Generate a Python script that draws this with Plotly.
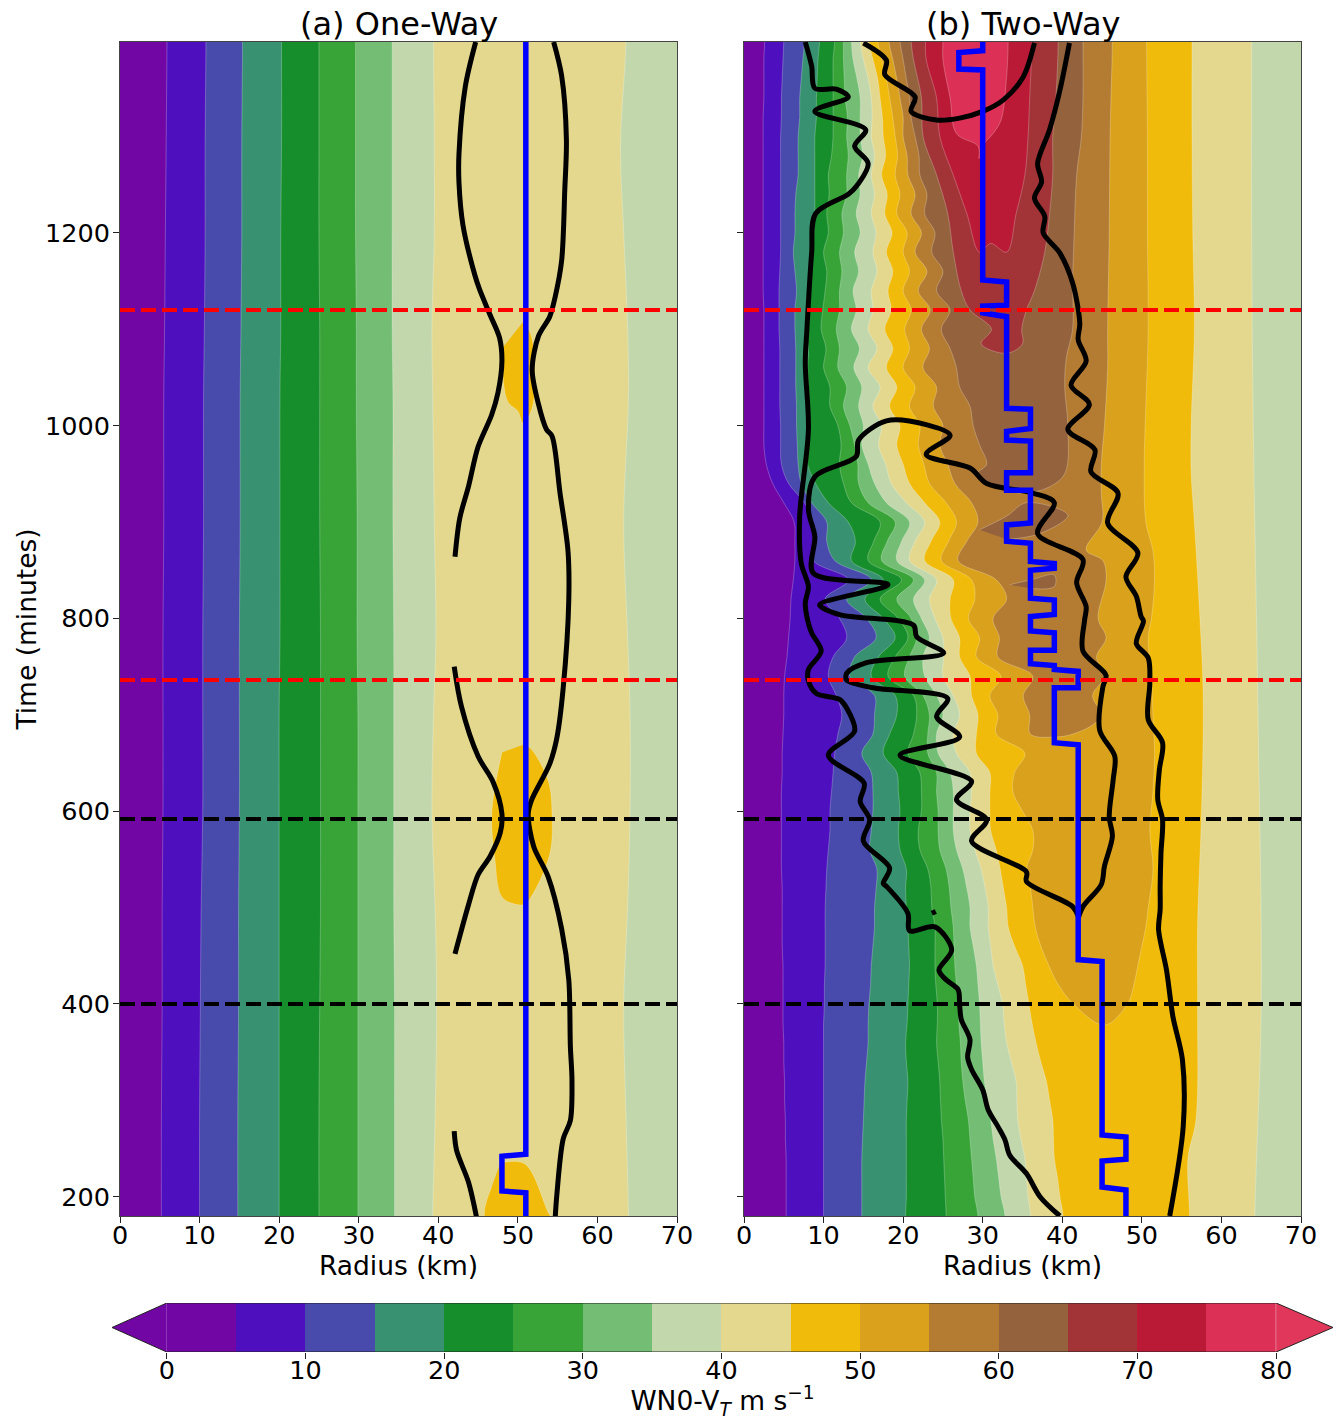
import plotly.graph_objects as go

W, H = 1340, 1420
FONT = "DejaVu Sans"

# ---------- colour levels (lower bound of each band, m/s) ----------
levels = [0, 5, 10, 15, 20, 25, 30, 35, 40, 45, 50, 55, 60, 65, 70, 75]
colors = ["#7106A5", "#4E10BE", "#484AAC", "#389272", "#178E2C", "#38A438", "#73BE74", "#C2D8AC",
          "#E3D88E", "#F0BB0A", "#DAA21C", "#B47C32", "#94623C", "#A23438", "#BA1A36", "#DC3056"]
over_color = "#E1375A"
radius_max = 70
cbar_ticks = [0, 10, 20, 30, 40, 50, 60, 70, 80]

# ---------- panel (a): isotach radii (km) ----------
a_time = [180, 280, 400, 500, 600, 700, 780, 900, 1030, 1100, 1200, 1289, 1400]
a_05 = [5.2, 5.2, 5.3, 5.3, 5.4, 5.4, 5.4, 5.5, 5.5, 5.6, 5.7, 5.8, 5.9]
a_10 = [10.0, 10.0, 10.1, 10.2, 10.4, 10.4, 10.4, 10.5, 10.5, 10.6, 10.7, 10.7, 10.8]
a_15 = [14.8, 14.8, 14.9, 14.9, 15.0, 15.0, 15.0, 15.1, 15.1, 15.2, 15.3, 15.3, 15.4]
a_20 = [20.0, 20.0, 20.0, 20.0, 20.0, 20.0, 20.1, 20.1, 20.1, 20.2, 20.2, 20.3, 20.3]
a_25 = [25.0, 25.0, 25.1, 25.2, 25.2, 25.2, 25.2, 25.1, 25.1, 25.1, 25.0, 25.0, 25.0]
a_30 = [29.9, 29.9, 29.9, 29.9, 29.9, 29.9, 29.8, 29.8, 29.7, 29.7, 29.6, 29.6, 29.6]
a_35 = [34.5, 34.5, 34.5, 34.4, 34.4, 34.4, 34.4, 34.3, 34.3, 34.2, 34.2, 34.2, 34.2]
a_40_in = [39.3, 39.6, 39.8, 39.6, 39.2, 39.4, 39.7, 39.5, 39.3, 39.2, 39.5, 39.5, 39.4]
a_40_out = [63.9, 63.6, 63.3, 63.8, 64.1, 64.1, 63.8, 63.3, 63.9, 63.8, 63.3, 62.9, 63.6]

a_island1_r = [50.7, 51.7, 51.9, 50.7, 50.0, 48.8, 48.2, 48.2]
a_island1_t = [1108, 1093, 1022, 1002, 1015, 1024, 1045, 1082]
a_island2_r = [50.7, 51.5, 53.8, 54.3, 54.0, 51.5, 50.7, 48.1, 47.1, 46.7, 47.1, 48.0]
a_island2_t = [669, 666, 632, 597, 555, 509, 503, 510, 551, 593, 624, 661]
a_island3_r = [47.8, 50.9, 54.0, 54.6, 46.0, 46.7]
a_island3_t = [235, 234, 181, 176, 176, 210]

a_line1_r = [44.7, 43.4, 42.6, 42.6, 43.1, 44.6, 45.2, 46.5, 47.7, 48.0, 47.5, 46.7, 45.0, 43.8, 42.7, 42.1]
a_line1_t = [1398, 1352, 1282, 1252, 1208, 1156, 1141, 1115, 1091, 1067, 1034, 1011, 978, 937, 904, 864]
a_line2_r = [42.0, 42.9, 45.0, 46.9, 48.0, 47.8, 46.5, 45.0, 43.8, 42.1]
a_line2_t = [750, 709, 657, 630, 597, 578, 553, 534, 503, 452]
a_line3_r = [42.0, 42.3, 43.8, 44.8]
a_line3_t = [268, 248, 215, 179]
a_line4_r = [54.5, 55.5, 56.1, 55.9, 55.5, 54.7, 54.0, 52.6, 51.8, 52.6, 53.6, 54.3, 55.3, 56.3, 56.4,
             55.7, 54.9, 54.0, 51.7, 51.3, 52.0, 53.8, 55.5, 56.4, 56.6, 56.8, 56.6, 55.7, 54.9, 54.7]
a_line4_t = [1398, 1363, 1297, 1245, 1171, 1134, 1113, 1093, 1058, 1022, 996, 989, 930, 870, 819,
             728, 676, 649, 611, 597, 563, 532, 478, 425, 356, 321, 279, 260, 202, 179]
a_rmw_r = [51, 51, 48, 48, 51, 51]
a_rmw_t = [1400, 244, 242, 206, 204, 180]

# ---------- panel (b): isotach radii (km), inner flank ----------
b_time = list(range(180, 1401, 20))
# columns: levels 5, 10, 15, 20, 25, 30, 35, 40, 45
b_inner_rows = [
    [5.3, 10.0, 14.8, 20.3, 25.4, 29.4, 32.8, 36.0, 40.1],
    [5.3, 10.0, 14.8, 20.4, 25.3, 29.0, 32.3, 35.7, 39.7],
    [5.3, 10.0, 14.8, 20.4, 25.2, 28.8, 32.0, 35.5, 39.4],
    [5.3, 10.0, 14.8, 20.4, 25.1, 28.6, 31.7, 35.3, 39.0],
    [5.2, 10.0, 14.9, 20.4, 25.0, 28.4, 31.3, 34.8, 38.9],
    [5.2, 10.0, 15.0, 20.4, 24.8, 28.2, 31.0, 34.4, 38.8],
    [5.1, 10.0, 15.1, 20.5, 24.7, 27.8, 30.6, 34.3, 38.4],
    [5.1, 10.0, 15.2, 20.6, 24.6, 27.5, 30.2, 34.2, 38.0],
    [5.0, 10.0, 15.4, 20.4, 24.4, 27.3, 30.0, 33.6, 37.3],
    [5.0, 10.0, 15.6, 20.3, 24.2, 27.2, 29.8, 33.0, 36.7],
    [4.9, 10.0, 15.6, 20.5, 24.3, 27.0, 29.7, 32.7, 36.2],
    [4.9, 10.1, 15.7, 20.6, 24.3, 26.9, 29.6, 32.5, 35.8],
    [4.9, 10.1, 15.9, 20.7, 24.1, 26.7, 29.4, 31.9, 35.4],
    [4.9, 10.2, 16.0, 20.8, 24.0, 26.5, 29.2, 31.3, 35.0],
    [4.8, 10.2, 16.2, 20.7, 24.0, 26.4, 28.8, 31.0, 34.0],
    [4.8, 10.2, 16.4, 20.6, 24.0, 26.3, 28.4, 30.7, 33.2],
    [4.8, 10.2, 16.4, 20.4, 23.6, 26.0, 28.4, 30.7, 33.0],
    [4.8, 10.3, 16.6, 20.3, 23.5, 25.8, 28.0, 30.3, 32.6],
    [4.7, 10.4, 16.7, 20.4, 23.1, 25.4, 27.5, 29.8, 32.2],
    [4.7, 10.6, 15.8, 19.6, 22.1, 24.6, 26.7, 29.0, 31.7],
    [4.7, 10.8, 16.0, 19.4, 21.9, 24.4, 26.3, 28.4, 31.0],
    [4.7, 10.8, 16.2, 19.6, 22.3, 24.4, 26.3, 28.4, 30.9],
    [4.7, 11.0, 16.2, 19.4, 22.3, 24.2, 26.3, 28.6, 30.9],
    [4.8, 11.2, 16.0, 19.2, 22.1, 24.2, 25.9, 28.4, 30.9],
    [4.8, 11.4, 14.8, 17.5, 20.6, 23.1, 24.4, 26.7, 29.2],
    [4.9, 11.8, 16.2, 18.3, 21.3, 23.1, 24.2, 26.3, 29.2],
    [5.0, 12.3, 16.4, 19.2, 21.7, 23.3, 25.0, 27.1, 29.4],
    [5.0, 11.6, 16.4, 19.0, 21.3, 22.5, 24.2, 26.3, 28.6],
    [5.1, 10.6, 13.3, 16.0, 18.1, 20.2, 22.7, 25.0, 28.4],
    [5.4, 11.2, 13.9, 16.9, 19.0, 20.8, 22.5, 25.1, 27.1],
    [5.6, 12.9, 16.6, 19.0, 20.6, 21.7, 23.3, 25.0, 27.1],
    [5.8, 12.0, 15.4, 17.5, 19.4, 21.0, 22.3, 24.0, 26.0],
    [5.9, 10.2, 12.9, 15.2, 17.1, 19.2, 21.3, 23.3, 25.9],
    [6.2, 13.1, 16.0, 17.5, 19.8, 21.3, 22.7, 24.2, 26.3],
    [6.4, 8.7, 11.4, 13.5, 15.6, 17.3, 19.2, 20.8, 22.7],
    [6.4, 8.7, 10.4, 14.0, 16.3, 18.0, 19.8, 21.5, 23.5],
    [6.3, 8.7, 10.4, 13.1, 17.1, 19.0, 20.8, 22.7, 24.6],
    [5.0, 7.6, 8.5, 10.6, 13.5, 15.6, 17.9, 20.4, 22.7],
    [3.6, 5.6, 7.2, 9.0, 12.5, 14.4, 16.4, 18.5, 20.8],
    [2.8, 4.7, 6.8, 8.0, 12.0, 14.3, 15.6, 17.8, 20.0],
    [2.5, 4.6, 6.7, 8.0, 12.2, 13.9, 14.8, 16.9, 19.2],
    [2.5, 4.6, 6.6, 8.2, 11.8, 13.3, 15.0, 17.3, 19.6],
    [2.5, 4.5, 6.6, 8.2, 10.8, 12.5, 14.4, 16.2, 18.3],
    [2.5, 4.5, 6.5, 8.1, 10.8, 12.9, 14.8, 17.1, 19.2],
    [2.5, 4.5, 6.5, 8.0, 10.0, 11.8, 13.8, 15.6, 17.9],
    [2.5, 4.5, 6.5, 8.1, 10.3, 12.0, 14.5, 16.7, 18.7],
    [2.5, 4.4, 6.4, 7.7, 9.7, 11.6, 13.5, 15.6, 17.7],
    [2.5, 4.4, 6.4, 7.9, 9.9, 12.0, 14.1, 16.2, 18.5],
    [2.4, 4.4, 6.6, 8.1, 10.2, 12.0, 13.7, 16.0, 18.1],
    [2.4, 4.5, 6.4, 8.3, 10.4, 12.3, 14.4, 16.7, 18.7],
    [2.4, 4.6, 6.2, 8.5, 10.0, 12.0, 13.9, 16.2, 17.9],
    [2.4, 4.6, 6.4, 8.8, 10.6, 12.5, 14.6, 16.6, 18.6],
    [2.4, 4.6, 6.4, 8.9, 10.4, 12.3, 14.1, 16.0, 17.7],
    [2.4, 4.6, 6.5, 8.9, 10.7, 12.9, 14.6, 16.4, 18.0],
    [2.4, 4.6, 6.8, 8.9, 10.6, 12.9, 14.4, 16.0, 17.3],
    [2.4, 4.6, 6.8, 8.9, 11.0, 13.1, 14.9, 16.4, 17.8],
    [2.4, 4.6, 6.8, 8.9, 11.2, 12.9, 14.6, 16.0, 17.5],
    [2.4, 4.7, 7.0, 9.1, 11.2, 13.0, 14.6, 16.1, 17.4],
    [2.5, 4.7, 7.0, 9.1, 11.2, 12.7, 14.6, 16.0, 17.1],
    [2.5, 4.8, 7.2, 9.2, 11.2, 12.6, 14.2, 15.6, 16.8],
    [2.5, 4.9, 7.4, 9.3, 11.2, 12.5, 13.7, 15.0, 16.2],
    [2.6, 5.0, 7.6, 9.5, 11.4, 12.5, 13.5, 14.6, 15.7],
]
b_05, b_10, b_15, b_20, b_25, b_30, b_35, b_40_in, b_45_in = map(list, zip(*b_inner_rows))

b_40_out_t = [180, 400, 700, 1000, 1200, 1400]
b_40_out = [64.2, 65.0, 64.6, 64.0, 63.8, 63.8]
b_45_out_t = [180, 240, 280, 400, 480, 600, 720, 800, 900, 950, 1000, 1100, 1200, 1300, 1400]
b_45_out = [56.0, 55.8, 56.8, 57.0, 57.0, 57.5, 57.7, 57.3, 56.6, 56.2, 56.2, 56.6, 56.4, 56.3, 56.3]

b_50_in_t = [378] + list(range(400, 1401, 20))
b_50_in = [45.3, 41.4, 39.5, 38.3, 37.3, 36.6, 36.3, 36.0, 35.5, 36.3, 36.3, 35.0, 33.8, 34.0, 35.3, 31.7,
           31.9, 30.9, 32.3, 29.2, 29.6, 28.2, 29.0, 28.6, 24.8, 25.7, 26.7, 25.4, 23.3, 22.6, 21.9, 22.1,
           20.8, 21.5, 20.0, 20.8, 20.2, 21.0, 20.0, 20.8, 20.0, 20.5, 19.2, 19.6, 19.0, 19.3, 19.0, 18.7,
           18.3, 17.9, 17.3, 16.8]
b_50_out_t = [378, 400, 420, 440, 460, 480, 500, 540, 580, 620, 660, 700, 740, 780, 800, 840, 870, 900,
              960, 1020, 1100, 1200, 1300, 1400]
b_50_out = [45.3, 48.2, 49.0, 49.5, 50.0, 50.5, 50.8, 51.4, 51.0, 51.4, 51.6, 51.4, 51.2, 50.8, 51.2, 51.6,
            51.4, 50.5, 50.3, 50.5, 50.8, 50.7, 50.7, 50.6]

b_55_in_t = [677] + list(range(680, 1401, 20))
b_55_in = [39.3, 36.0, 35.9, 35.1, 36.3, 31.9, 32.1, 31.3, 33.0, 31.7, 26.9, 28.0, 29.4, 28.6, 26.5, 25.6,
           24.6, 25.0, 23.8, 24.2, 22.5, 23.3, 22.3, 23.4, 21.9, 23.0, 21.5, 22.3, 21.0, 21.5, 20.6, 20.5,
           20.0, 20.0, 19.6, 19.2, 18.7, 18.2]
b_55_out_t = [677, 680, 690, 700, 720, 740, 760, 780, 800, 840, 860, 871, 900, 930, 960, 1000, 1060, 1100,
              1200, 1300, 1400]
b_55_out = [39.3, 41.3, 43.9, 44.9, 43.8, 45.3, 44.3, 45.5, 44.5, 45.5, 45.1, 43.0, 45.0, 44.9, 44.9, 45.3,
            45.7, 45.7, 45.9, 46.0, 46.3]

b_60_in_t = [930, 933, 940, 950, 960, 980, 1000, 1020, 1040, 1060, 1080, 1100, 1120, 1140, 1160, 1180, 1200,
             1220, 1240, 1260, 1280, 1300, 1320, 1340, 1360, 1380, 1400]
b_60_in = [35.0, 33.0, 31.0, 29.3, 30.5, 29.6, 28.8, 28.4, 27.1, 26.7, 25.9, 24.8, 25.9, 24.2, 25.0, 23.6, 24.0,
           22.7, 23.0, 22.1, 22.0, 21.5, 21.0, 20.8, 20.4, 20.0, 19.6]
b_60_out_t = [930, 935, 950, 1000, 1040, 1070, 1100, 1150, 1200, 1260, 1300, 1340, 1400]
b_60_out = [35.0, 38.0, 40.3, 40.7, 40.3, 40.5, 41.3, 41.3, 41.5, 41.8, 42.4, 42.6, 42.6]
b_60_islandA_r = [29.6, 33.0, 35.5, 40.7, 37.2, 33.0]
b_60_islandA_t = [892, 906, 920, 907, 888, 882]
b_60_islandB_r = [33.4, 36.1, 39.0, 39.0, 36.1]
b_60_islandB_t = [835, 840, 845, 833, 831]

b_65_in_t = [1075, 1085, 1100, 1120, 1140, 1180, 1220, 1260, 1300, 1340, 1380, 1400]
b_65_in = [33.0, 29.8, 31.1, 28.4, 27.3, 26.3, 25.6, 24.2, 22.5, 22.3, 21.3, 21.0]
b_65_out_t = [1075, 1085, 1100, 1120, 1140, 1180, 1220, 1260, 1300, 1340, 1400]
b_65_out = [33.0, 35.0, 34.9, 35.5, 36.5, 37.8, 38.4, 38.8, 38.8, 39.2, 39.5]

b_70_in_t = [1189, 1180, 1220, 1260, 1300, 1340, 1380, 1400]
b_70_in = [31.0, 29.6, 28.0, 26.3, 24.6, 24.2, 22.9, 22.8]
b_70_out_t = [1189, 1180, 1220, 1260, 1300, 1340, 1400]
b_70_out = [31.0, 33.0, 34.2, 35.3, 35.7, 35.9, 36.2]

b_75_in_t = [1277, 1290, 1303, 1340, 1380, 1400]
b_75_in = [29.5, 29.4, 26.7, 25.9, 25.0, 25.0]
b_75_out_t = [1277, 1290, 1303, 1317, 1362, 1400]
b_75_out = [30.0, 30.0, 31.3, 32.3, 33.0, 33.2]

# ---------- panel (b): black contours ----------
b_lineA_r = [39.7, 37.2, 35.5, 33.4, 32.8, 31.9, 30.7, 30.0, 28.6, 28.1, 28.4, 27.3, 27.1, 26.9, 25.4, 24.5, 26.1,
             24.0, 20.8, 20.6, 17.9, 17.5, 18.3, 15.0, 15.8, 14.6, 15.1, 10.6, 13.9, 12.9, 12.0, 9.1, 8.1, 8.1,
             9.7, 8.5, 8.0, 7.7, 8.1, 7.2, 7.0, 8.1, 7.7, 7.9, 8.5, 9.0, 13.1, 14.1, 15.6, 13.9, 15.3, 8.9, 13.1,
             11.6, 8.9, 8.5, 7.7]
b_lineA_t = [180, 200, 224, 243, 259, 273, 290, 311, 332, 345, 363, 384, 399, 415, 425, 435, 456,
             480, 476, 494, 522, 525, 541, 569, 591, 610, 629, 658, 683, 707, 716, 722, 735, 747,
             766, 785, 798, 816, 833, 857, 906, 996, 1065, 1099, 1179, 1220, 1240, 1248, 1272, 1290, 1307, 1326, 1341,
             1349, 1350, 1373, 1398]
b_lineB_r = [15.0, 17.9, 17.7, 21.5, 21.0, 24.2, 27.1, 30.0, 32.6, 35.1, 36.5]
b_lineB_t = [1397, 1379, 1364, 1341, 1326, 1317, 1319, 1326, 1338, 1362, 1397]
b_lineC_r = [53.5, 55.2, 55.1, 53.9, 53.1, 52.1, 52.3, 52.3, 52.4, 52.6, 52.0, 52.2, 52.6, 50.8, 51.0, 50.8, 49.3,
             50.2, 49.9, 49.3, 48.0, 49.5, 45.7, 47.0, 43.6, 44.1, 40.7, 43.4, 41.1, 43.0, 42.0, 42.2, 41.3, 39.7,
             37.6, 37.8, 36.5, 37.4, 36.9, 38.4, 39.7, 40.9]
b_lineC_t = [180, 273, 342, 387, 435, 477, 498, 522, 556, 591, 612, 643, 671, 695, 733, 759, 774,
             797, 802, 823, 843, 868, 899, 930, 952, 975, 996, 1022, 1042, 1067, 1089, 1106, 1148, 1179,
             1200, 1217, 1236, 1253, 1272, 1307, 1348, 1397]
b_lineE_r = [42.0, 42.6, 44.9, 45.3, 46.3, 45.9, 46.4, 46.6, 44.7, 45.1, 45.5, 42.6, 42.8, 43.0, 41.8, 42.6,
             36.9, 39.0, 36.3, 30.5, 28.4, 22.9, 25.9, 22.9, 17.9, 14.4, 14.1, 8.9, 8.1, 8.9, 8.7, 18.1, 9.5, 12.0,
             21.3, 21.7, 25.1, 15.4, 12.9, 12.9, 16.2, 25.6, 24.2, 27.1, 19.6, 28.6, 26.7, 30.5, 28.6, 35.5, 35.5,
             41.3, 42.0]
b_lineE_t = [489, 501, 524, 543, 574, 594, 633, 657, 684, 729, 741, 766, 798, 812, 837, 861,
             888, 920, 930, 940, 956, 970, 990, 1001, 1005, 985, 968, 947, 913, 885, 847, 835, 814, 804,
             793, 781, 764, 754, 743, 736, 728, 717, 698, 677, 658, 631, 612, 591, 569, 537, 527,
             501, 491]
b_dot_r = [23.6, 24.1]
b_dot_t = [494, 496]

# ---------- panel (b): radius of maximum wind ----------
b_rmw_r = [48, 48, 45, 45, 48, 48, 45, 45, 42, 42, 39, 39, 42, 42, 39, 39, 36, 36, 39, 39, 36, 36, 39, 39, 36, 36,
           39, 39, 36, 36, 33, 33, 36, 36, 33, 33, 36, 36, 33, 33, 36, 36, 33, 33, 30, 30, 33, 33, 30, 30, 27, 27, 30, 30]
b_rmw_t = [180, 207, 210, 237, 239, 262, 264, 444, 446, 669, 671, 728, 728, 745, 747, 751, 753, 767, 767, 785, 787,
           802, 804, 819, 821, 850, 852, 857, 859, 878, 880, 897, 899, 933, 933, 951, 951, 984, 985, 994, 997, 1017,
           1018, 1113, 1117, 1124, 1125, 1149, 1151, 1369, 1370, 1387, 1389, 1400]

# ---------- reference times ----------
red_times = [1120, 736]
black_times = [592, 400]
t_bottom, t_top = 180, 1398

fig = go.Figure()


def poly(rs, ts, color, xa, ya):
    fig.add_trace(go.Scatter(x=rs, y=ts, xaxis=xa, yaxis=ya, mode="lines", fill="toself", fillcolor=color,
                             line=dict(color="rgba(255,255,255,0.35)", width=0.7, shape="spline", smoothing=1.0),
                             hoverinfo="skip", showlegend=False))


def run_past_frame(ts, rs):
    """Carry a flank straight past the plot frame so its polygon corners stay out of sight."""
    ts, rs = list(ts), list(rs)
    if ts[0] <= t_bottom:
        ts, rs = [ts[0] - 80] + ts, [rs[0]] + rs
    if ts[-1] >= t_top:
        ts, rs = ts + [ts[-1] + 80], rs + [rs[-1]]
    return ts, rs


def band(in_t, in_r, out_t, out_r, color, xa, ya):
    in_t, in_r = run_past_frame(in_t, in_r)
    out_t, out_r = run_past_frame(out_t, out_r)
    poly(in_r + out_r[::-1], in_t + out_t[::-1], color, xa, ya)


def curve(rs, ts, xa, ya, color="black", width=5, shape="spline"):
    fig.add_trace(go.Scatter(x=rs, y=ts, xaxis=xa, yaxis=ya, mode="lines", hoverinfo="skip", showlegend=False,
                             line=dict(color=color, width=width, shape=shape, smoothing=0.9)))


def dashes(xa, ya):
    for times, c in ((red_times, "#FF0000"), (black_times, "#000000")):
        for t in times:
            fig.add_trace(go.Scatter(x=[0, radius_max], y=[t, t], xaxis=xa, yaxis=ya, mode="lines",
                                     hoverinfo="skip", showlegend=False,
                                     line=dict(color=c, width=4, dash="15px,6px")))


def ground(xa, ya):
    fig.add_trace(go.Scatter(x=[0, radius_max, radius_max, 0, 0], y=[100, 100, 1500, 1500, 100], xaxis=xa, yaxis=ya,
                             mode="lines", fill="toself", fillcolor=colors[0], line=dict(width=0),
                             hoverinfo="skip", showlegend=False))


# panel (a)
ground("x", "y")
for arr, c in zip([a_05, a_10, a_15, a_20, a_25, a_30, a_35], colors[1:8]):
    band(a_time, arr, [180, 1400], [radius_max + 5, radius_max + 5], c, "x", "y")
band(a_time, a_40_in, a_time, a_40_out, colors[8], "x", "y")
poly(a_island1_r, a_island1_t, colors[9], "x", "y")
poly(a_island2_r, a_island2_t, colors[9], "x", "y")
poly(a_island3_r, a_island3_t, colors[9], "x", "y")
for rr, tt in ((a_line1_r, a_line1_t), (a_line2_r, a_line2_t), (a_line3_r, a_line3_t), (a_line4_r, a_line4_t)):
    curve(rr, tt, "x", "y")
curve(a_rmw_r, a_rmw_t, "x", "y", "#0000FF", 5.5, "linear")
dashes("x", "y")

# panel (b)
ground("x2", "y2")
for arr, c in zip([b_05, b_10, b_15, b_20, b_25, b_30, b_35], colors[1:8]):
    band(b_time, arr, [180, 1400], [radius_max + 5, radius_max + 5], c, "x2", "y2")
band(b_time, b_40_in, b_40_out_t, b_40_out, colors[8], "x2", "y2")
band(b_time, b_45_in, b_45_out_t, b_45_out, colors[9], "x2", "y2")
band(b_50_in_t, b_50_in, b_50_out_t, b_50_out, colors[10], "x2", "y2")
band(b_55_in_t, b_55_in, b_55_out_t, b_55_out, colors[11], "x2", "y2")
band(b_60_in_t, b_60_in, b_60_out_t, b_60_out, colors[12], "x2", "y2")
poly(b_60_islandA_r, b_60_islandA_t, colors[12], "x2", "y2")
poly(b_60_islandB_r, b_60_islandB_t, colors[12], "x2", "y2")
band(b_65_in_t, b_65_in, b_65_out_t, b_65_out, colors[13], "x2", "y2")
band(b_70_in_t, b_70_in, b_70_out_t, b_70_out, colors[14], "x2", "y2")
band(b_75_in_t, b_75_in, b_75_out_t, b_75_out, colors[15], "x2", "y2")
for rr, tt in ((b_lineA_r, b_lineA_t), (b_lineB_r, b_lineB_t), (b_lineC_r, b_lineC_t), (b_lineE_r, b_lineE_t),
               (b_dot_r, b_dot_t)):
    curve(rr, tt, "x2", "y2")
curve(b_rmw_r, b_rmw_t, "x2", "y2", "#0000FF", 5.5, "linear")
dashes("x2", "y2")

# colour bar as its own axis
cs = []
n = len(colors)
for i, c in enumerate(colors):
    cs += [[i / n, c], [(i + 1) / n, c]]
fig.add_trace(go.Heatmap(x=levels + [80], y=[0, 1], z=[[lv + 2.5 for lv in levels]], zmin=0, zmax=80,
                         colorscale=cs, showscale=False, xaxis="x3", yaxis="y3", hoverinfo="skip"))
cb_low, cb_high = -3.95, 84.1
fig.add_trace(go.Scatter(x=[0, cb_low, 0, 0], y=[0, 0.5, 1, 0], xaxis="x3", yaxis="y3", mode="lines", fill="toself",
                         fillcolor=colors[0], line=dict(width=0), hoverinfo="skip", showlegend=False))
fig.add_trace(go.Scatter(x=[80, cb_high, 80, 80], y=[0, 0.5, 1, 0], xaxis="x3", yaxis="y3", mode="lines", fill="toself",
                         fillcolor=over_color, line=dict(width=0), hoverinfo="skip", showlegend=False))
fig.add_trace(go.Scatter(x=[0, cb_low, 0, 80, cb_high, 80, 0], y=[1, 0.5, 0, 0, 0.5, 1, 1], xaxis="x3", yaxis="y3",
                         mode="lines", line=dict(color="#222222", width=1), hoverinfo="skip", showlegend=False))


def px_x(a, b):
    return [a / W, b / W]


def px_y(top, bottom):
    return [1 - bottom / H, 1 - top / H]


tick_font = dict(family=FONT, size=25.5, color="black")
axis_common = dict(showgrid=False, zeroline=False, ticks="outside", ticklen=6, tickwidth=1.2, tickcolor="#222222",
                   showline=True, linecolor="#444444", linewidth=1, mirror=True, tickfont=tick_font,
                   layer="above traces", automargin=False)
xticks = [0, 10, 20, 30, 40, 50, 60, 70]
yticks = [200, 400, 600, 800, 1000, 1200]
title_font = dict(family=FONT, size=26.5, color="black")

fig.update_layout(
    width=W, height=H, margin=dict(l=0, r=0, t=0, b=0, autoexpand=False), paper_bgcolor="white", plot_bgcolor="white",
    showlegend=False, font=dict(family=FONT, color="black"),
    xaxis=dict(axis_common, domain=px_x(120, 677), range=[0, 70], tickvals=xticks, anchor="y", ticklabelstandoff=-10,
               title=dict(text="Radius (km)", font=title_font, standoff=0)),
    yaxis=dict(axis_common, domain=px_y(42, 1216), range=[t_bottom, t_top], tickvals=yticks, anchor="x",
               ticklabelstandoff=-2, title=dict(text="Time (minutes)", font=title_font, standoff=0)),
    xaxis2=dict(axis_common, domain=px_x(744, 1301), range=[0, 70], tickvals=xticks, anchor="y2", ticklabelstandoff=-10,
                title=dict(text="Radius (km)", font=title_font, standoff=0)),
    yaxis2=dict(axis_common, domain=px_y(42, 1216), range=[t_bottom, t_top], tickvals=yticks, showticklabels=False,
                anchor="x2"),
    xaxis3=dict(domain=px_x(112, 1333), range=[cb_low, cb_high], tickvals=cbar_ticks, ticks="outside", ticklen=6,
                tickwidth=1.2, tickcolor="#222222", tickfont=tick_font, showgrid=False, zeroline=False, showline=False,
                anchor="y3", ticklabelstandoff=-11, automargin=False,
                title=dict(text="WN0-V<sub><i>T</i></sub> m s<sup>\u22121</sup>", font=title_font, standoff=0)),
    yaxis3=dict(domain=px_y(1303, 1352), range=[0, 1], showticklabels=False, ticks="", showgrid=False,
                zeroline=False, showline=False, anchor="x3", automargin=False),
    annotations=[
        dict(text="(a) One-Way", xref="paper", yref="paper", x=399 / W, y=1 - 45 / H, xanchor="center",
             yanchor="bottom", showarrow=False, font=dict(family=FONT, size=32, color="black")),
        dict(text="(b) Two-Way", xref="paper", yref="paper", x=1023 / W, y=1 - 45 / H, xanchor="center",
             yanchor="bottom", showarrow=False, font=dict(family=FONT, size=32, color="black")),
    ],
)

fig.write_html("out.html", post_script="document.body.style.margin='0';", config={"displayModeBar": False})
